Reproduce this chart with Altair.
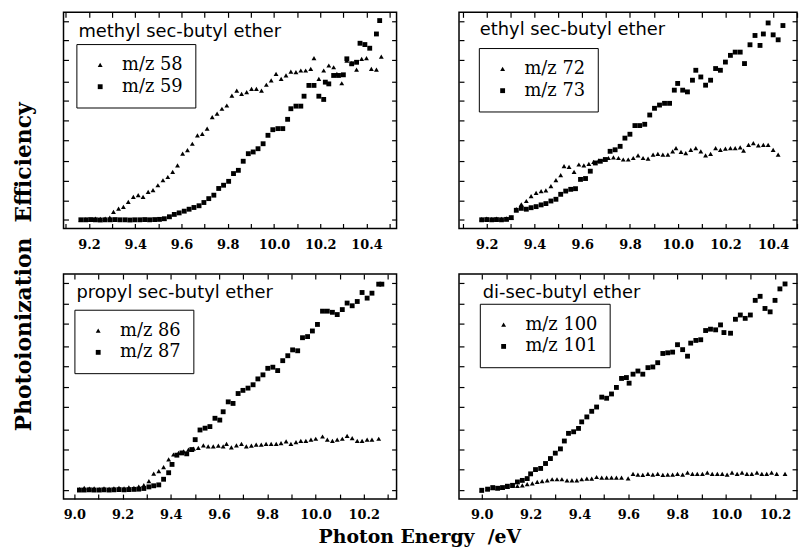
import altair as alt
import pandas as pd

# ---------------- data (photon energy eV, relative ion signal) ----------------
p1_names = ["m/z 58", "m/z 59"]
p1_tri = [(9.165,0.04),(9.186,0.042),(9.207,0.04),(9.228,0.046),(9.249,0.044),(9.27,0.045),(9.29,0.05),
          (9.306,0.077),(9.328,0.092),(9.349,0.10),(9.37,0.123),(9.392,0.146),(9.413,0.154),(9.434,0.146),
          (9.456,0.169),(9.477,0.177),(9.498,0.20),(9.52,0.223),(9.541,0.238),(9.562,0.262),(9.583,0.292),
          (9.605,0.346),(9.626,0.362),(9.647,0.392),(9.669,0.431),(9.69,0.438),(9.711,0.462),(9.733,0.515),
          (9.754,0.531),(9.775,0.554),(9.796,0.569),(9.818,0.615),(9.839,0.638),(9.86,0.623),(9.882,0.631),
          (9.903,0.646),(9.924,0.646),(9.946,0.638),(9.967,0.665),(9.988,0.685),(10.009,0.715),(10.031,0.692),
          (10.052,0.708),(10.073,0.726),(10.095,0.723),(10.116,0.731),(10.137,0.731),(10.159,0.738),
          (10.173,0.788),(10.194,0.692),(10.215,0.731),(10.237,0.754),(10.258,0.746),(10.272,0.715),
          (10.293,0.672),(10.315,0.777),(10.336,0.765),(10.357,0.735),(10.379,0.785),(10.40,0.788),
          (10.421,0.738),(10.443,0.735),(10.464,0.795)]
p1_sq = [(9.165,0.04),(9.186,0.04),(9.207,0.041),(9.228,0.04),(9.249,0.039),(9.27,0.04),(9.292,0.04),
         (9.313,0.041),(9.334,0.04),(9.356,0.04),(9.377,0.039),(9.398,0.04),(9.42,0.04),(9.441,0.041),
         (9.462,0.04),(9.484,0.041),(9.505,0.042),(9.526,0.045),(9.548,0.054),(9.569,0.065),(9.59,0.072),
         (9.612,0.08),(9.633,0.089),(9.654,0.097),(9.676,0.105),(9.697,0.12),(9.718,0.138),(9.74,0.154),
         (9.761,0.185),(9.782,0.20),(9.804,0.218),(9.825,0.254),(9.846,0.269),(9.867,0.311),(9.889,0.346),
         (9.91,0.354),(9.931,0.369),(9.953,0.392),(9.974,0.431),(9.995,0.457),(10.017,0.462),(10.038,0.462),
         (10.059,0.505),(10.073,0.554),(10.095,0.566),(10.116,0.566),(10.13,0.612),(10.151,0.662),
         (10.173,0.662),(10.194,0.612),(10.215,0.597),(10.222,0.677),(10.237,0.669),(10.258,0.708),
         (10.279,0.708),(10.30,0.711),(10.315,0.785),(10.336,0.762),(10.357,0.769),(10.372,0.857),
         (10.393,0.851),(10.414,0.834),(10.443,0.90),(10.457,0.962)]

p2_names = ["m/z 72", "m/z 73"]
p2_tri = [(9.179,0.043),(9.2,0.045),(9.221,0.043),(9.241,0.046),(9.262,0.044),(9.283,0.047),(9.303,0.05),
          (9.324,0.089),(9.345,0.112),(9.366,0.127),(9.386,0.15),(9.407,0.165),(9.428,0.173),(9.448,0.176),
          (9.469,0.196),(9.49,0.224),(9.51,0.247),(9.524,0.288),(9.545,0.285),(9.566,0.262),(9.586,0.296),
          (9.607,0.292),(9.628,0.299),(9.648,0.308),(9.669,0.314),(9.69,0.319),(9.71,0.326),(9.731,0.329),
          (9.752,0.326),(9.772,0.319),(9.793,0.319),(9.814,0.326),(9.834,0.338),(9.855,0.326),(9.876,0.323),
          (9.897,0.342),(9.917,0.345),(9.938,0.342),(9.959,0.342),(9.979,0.357),(9.993,0.372),(10.014,0.354),
          (10.034,0.349),(10.055,0.364),(10.076,0.372),(10.097,0.357),(10.117,0.338),(10.138,0.345),
          (10.159,0.372),(10.179,0.364),(10.20,0.369),(10.221,0.372),(10.241,0.372),(10.262,0.375),
          (10.276,0.36),(10.297,0.387),(10.317,0.395),(10.338,0.384),(10.359,0.387),(10.379,0.387),
          (10.40,0.364),(10.421,0.342)]
p2_sq = [(9.179,0.04),(9.2,0.041),(9.221,0.04),(9.241,0.041),(9.262,0.04),(9.283,0.042),(9.303,0.05),
         (9.324,0.084),(9.345,0.093),(9.366,0.089),(9.386,0.096),(9.407,0.101),(9.428,0.109),(9.448,0.115),
         (9.469,0.127),(9.49,0.135),(9.51,0.158),(9.531,0.173),(9.552,0.181),(9.572,0.184),(9.593,0.227),
         (9.614,0.231),(9.634,0.265),(9.655,0.303),(9.676,0.311),(9.697,0.319),(9.717,0.357),(9.738,0.364),
         (9.759,0.38),(9.779,0.418),(9.80,0.436),(9.821,0.476),(9.841,0.476),(9.862,0.482),(9.883,0.525),
         (9.903,0.556),(9.924,0.571),(9.945,0.579),(9.966,0.579),(9.986,0.64),(10.0,0.671),(10.021,0.64),
         (10.041,0.632),(10.062,0.686),(10.076,0.732),(10.097,0.701),(10.117,0.663),(10.138,0.686),
         (10.159,0.74),(10.179,0.732),(10.20,0.77),(10.221,0.801),(10.241,0.816),(10.262,0.816),
         (10.28,0.763),(10.303,0.85),(10.324,0.893),(10.345,0.847),(10.359,0.90),(10.379,0.951),
         (10.40,0.896),(10.421,0.873),(10.441,0.939)]

p3_names = ["m/z 86", "m/z 87"]
p3_tri = [(9.021,0.044),(9.041,0.05),(9.062,0.046),(9.082,0.048),(9.103,0.044),(9.123,0.047),(9.144,0.045),
          (9.164,0.048),(9.185,0.05),(9.206,0.047),(9.226,0.052),(9.247,0.05),(9.267,0.055),(9.288,0.062),
          (9.309,0.08),(9.329,0.113),(9.35,0.124),(9.37,0.142),(9.391,0.176),(9.411,0.198),(9.432,0.205),
          (9.453,0.212),(9.473,0.22),(9.494,0.224),(9.514,0.227),(9.535,0.239),(9.555,0.234),(9.576,0.234),
          (9.597,0.237),(9.617,0.234),(9.631,0.245),(9.651,0.23),(9.672,0.239),(9.693,0.245),(9.713,0.234),
          (9.734,0.237),(9.754,0.242),(9.775,0.242),(9.795,0.245),(9.816,0.245),(9.837,0.245),(9.857,0.249),
          (9.878,0.256),(9.898,0.245),(9.919,0.253),(9.939,0.259),(9.96,0.259),(9.981,0.264),(10.001,0.268),
          (10.029,0.278),(10.049,0.264),(10.07,0.259),(10.09,0.264),(10.111,0.268),(10.131,0.281),
          (10.152,0.271),(10.173,0.259),(10.193,0.259),(10.214,0.264),(10.234,0.264),(10.262,0.268)]
p3_sq = [(9.021,0.04),(9.041,0.04),(9.062,0.041),(9.082,0.04),(9.103,0.04),(9.123,0.041),(9.144,0.04),
         (9.164,0.041),(9.185,0.042),(9.206,0.041),(9.226,0.042),(9.247,0.043),(9.267,0.044),(9.288,0.047),
         (9.309,0.054),(9.329,0.059),(9.35,0.063),(9.37,0.088),(9.391,0.117),(9.405,0.154),(9.425,0.195),
         (9.446,0.205),(9.466,0.201),(9.487,0.22),(9.501,0.264),(9.521,0.307),(9.542,0.315),(9.562,0.322),
         (9.583,0.359),(9.603,0.351),(9.617,0.388),(9.638,0.432),(9.658,0.425),(9.679,0.469),(9.699,0.483),
         (9.72,0.493),(9.741,0.508),(9.761,0.534),(9.782,0.552),(9.802,0.581),(9.823,0.586),(9.843,0.571),
         (9.864,0.615),(9.885,0.637),(9.905,0.663),(9.926,0.659),(9.946,0.717),(9.967,0.722),(9.987,0.747),
         (10.008,0.776),(10.029,0.835),(10.049,0.835),(10.07,0.83),(10.09,0.82),(10.111,0.842),
         (10.131,0.871),(10.152,0.859),(10.173,0.878),(10.193,0.918),(10.214,0.893),(10.234,0.915),
         (10.262,0.955),(10.275,0.955)]

p4_names = ["m/z 100", "m/z 101"]
p4_tri = [(9.0,0.039),(9.024,0.044),(9.045,0.048),(9.065,0.048),(9.085,0.051),(9.105,0.054),(9.126,0.058),
          (9.146,0.058),(9.166,0.061),(9.186,0.066),(9.207,0.07),(9.227,0.076),(9.247,0.08),(9.268,0.083),
          (9.288,0.088),(9.308,0.088),(9.328,0.088),(9.349,0.083),(9.369,0.083),(9.389,0.083),(9.409,0.088),
          (9.43,0.091),(9.45,0.091),(9.47,0.098),(9.491,0.095),(9.511,0.095),(9.531,0.095),(9.551,0.095),
          (9.572,0.095),(9.599,0.092),(9.619,0.112),(9.639,0.109),(9.659,0.107),(9.68,0.112),(9.70,0.109),
          (9.72,0.112),(9.741,0.107),(9.761,0.109),(9.781,0.109),(9.801,0.112),(9.822,0.109),(9.842,0.117),
          (9.862,0.112),(9.882,0.112),(9.903,0.112),(9.923,0.117),(9.943,0.112),(9.964,0.112),(9.984,0.112),
          (10.004,0.109),(10.024,0.117),(10.045,0.112),(10.065,0.117),(10.085,0.112),(10.105,0.112),
          (10.126,0.117),(10.146,0.112),(10.166,0.112),(10.186,0.117),(10.207,0.112),(10.241,0.112)]
p4_sq = [(9.0,0.039),(9.024,0.044),(9.045,0.051),(9.065,0.048),(9.085,0.051),(9.105,0.057),(9.126,0.061),
         (9.146,0.076),(9.166,0.083),(9.186,0.091),(9.2,0.112),(9.22,0.131),(9.241,0.136),(9.261,0.158),
         (9.281,0.18),(9.301,0.204),(9.322,0.223),(9.338,0.258),(9.355,0.292),(9.376,0.299),(9.396,0.314),
         (9.409,0.343),(9.43,0.365),(9.45,0.39),(9.47,0.409),(9.491,0.453),(9.511,0.448),(9.531,0.467),
         (9.551,0.496),(9.572,0.536),(9.592,0.54),(9.603,0.515),(9.619,0.555),(9.639,0.569),(9.659,0.555),
         (9.68,0.584),(9.70,0.587),(9.72,0.606),(9.741,0.647),(9.761,0.65),(9.781,0.653),(9.801,0.686),
         (9.822,0.664),(9.842,0.635),(9.855,0.693),(9.876,0.705),(9.896,0.708),(9.916,0.749),(9.936,0.755),
         (9.957,0.752),(9.977,0.774),(9.991,0.74),(10.018,0.737),(10.038,0.799),(10.058,0.818),
         (10.078,0.803),(10.099,0.818),(10.119,0.883),(10.139,0.901),(10.159,0.847),(10.18,0.832),
         (10.20,0.883),(10.22,0.934),(10.241,0.956)]

titles = ["methyl sec-butyl ether", "ethyl sec-butyl ether", "propyl sec-butyl ether", "di-sec-butyl ether"]
x_domains = [[9.09, 10.53], [9.084, 10.50], [8.955, 10.336], [8.907, 10.29]]
x_ticks_top = [9.1, 9.2, 9.3, 9.4, 9.5, 9.6, 9.7, 9.8, 9.9, 10.0, 10.1, 10.2, 10.3, 10.4, 10.5]
x_ticks_bottom = [9.0, 9.1, 9.2, 9.3, 9.4, 9.5, 9.6, 9.7, 9.8, 9.9, 10.0, 10.1, 10.2, 10.3]
y_ticks = [0.04, 0.13, 0.22, 0.31, 0.41, 0.5, 0.59, 0.68, 0.78, 0.87, 0.96]

SERIF = "DejaVu Serif"
SANS = "DejaVu Sans"
TICK = 5


def make_df(tri, sq, names):
    rows = [{"ev": e, "val": v, "series": names[0]} for e, v in tri]
    rows += [{"ev": e, "val": v, "series": names[1]} for e, v in sq]
    return pd.DataFrame(rows)


def panel(df, names, title, xdom, xticks, w, h, leg_xy, txt_xy):
    xs = alt.Scale(domain=xdom, nice=False, zero=False)
    ys = alt.Scale(domain=[0, 1], nice=False, zero=False)
    common = dict(offset=-TICK, tickSize=TICK, domain=False, grid=False, title=None,
                  tickColor="black", tickWidth=1.2)
    bottom = alt.Axis(orient="bottom", values=xticks,
                      labelExpr="abs(round(datum.value*10)) % 2 == 0 ? format(datum.value, '.1f') : ''",
                      labelPadding=TICK + 5, labelFont=SERIF, labelFontWeight="bold",
                      labelFontSize=13, labelColor="black", labelFlush=False, **common)
    top = alt.Axis(orient="top", values=xticks, labels=False, **common)
    left = alt.Axis(orient="left", values=y_ticks, labels=False, **common)
    right = alt.Axis(orient="right", values=y_ticks, labels=False, **common)
    pts = alt.Chart(df).mark_point(filled=True, color="black", opacity=1, size=24).encode(
        x=alt.X("ev:Q", scale=xs, axis=bottom),
        y=alt.Y("val:Q", scale=ys, axis=left),
        shape=alt.Shape("series:N",
                        scale=alt.Scale(domain=names, range=["triangle-up", "square"]),
                        legend=alt.Legend(title=None, orient="none", legendX=leg_xy[0], legendY=leg_xy[1],
                                          strokeColor="black", padding=12,
                                          labelFont=SERIF, labelFontSize=18, labelColor="black",
                                          symbolSize=24, symbolFillColor="black", symbolStrokeColor="black",
                                          symbolOffset=3, labelOffset=13, rowPadding=4)),
    )
    frame = alt.Chart(df).mark_point(opacity=0).encode(
        x=alt.X("ev:Q", scale=xs, axis=top),
        y=alt.Y("val:Q", scale=ys, axis=right),
    )
    txt = alt.Chart(pd.DataFrame({"t": [title]})).mark_text(
        align="left", baseline="alphabetic", font=SANS, fontSize=18, color="black"
    ).encode(x=alt.value(txt_xy[0]), y=alt.value(txt_xy[1]), text="t:N")
    return alt.layer(pts, frame, txt).resolve_axis(x="independent", y="independent").properties(
        width=w, height=h, view=alt.ViewBackground(stroke="black", strokeWidth=1.5))


c1 = panel(make_df(p1_tri, p1_sq, p1_names), p1_names, titles[0], x_domains[0], x_ticks_top, 336, 218, (13, 32), (15, 25))
c2 = panel(make_df(p2_tri, p2_sq, p2_names), p2_names, titles[1], x_domains[1], x_ticks_top, 341, 218, (20, 36), (21, 23))
c3 = panel(make_df(p3_tri, p3_sq, p3_names), p3_names, titles[2], x_domains[2], x_ticks_bottom, 336, 227, (11, 36), (13, 24))
c4 = panel(make_df(p4_tri, p4_sq, p4_names), p4_names, titles[3], x_domains[3], x_ticks_bottom, 341, 227, (21, 30), (24, 24))


def ind(ch):
    return ch.resolve_scale(x="independent", y="independent", shape="independent").resolve_legend(
        shape="independent").resolve_axis(x="independent", y="independent")


row1 = ind(alt.hconcat(c1, c2, spacing=59))
row2 = ind(alt.hconcat(c3, c4, spacing=59))
grid = ind(alt.vconcat(row1, row2, spacing=20)).properties(
    title=alt.TitleParams("Photoionization\u00a0\u00a0Efficiency", orient="left", anchor="middle", font=SERIF,
                          fontSize=22, fontWeight="bold", color="black", offset=26))
chart = ind(alt.hconcat(grid)).properties(
    title=alt.TitleParams("Photon Energy\u00a0\u00a0/eV", orient="bottom", anchor="middle", font=SERIF,
                          fontSize=19, fontWeight="bold", color="black", offset=6, dx=14),
    padding={"left": 5, "top": 0, "right": 0, "bottom": 0},
    background="white",
).configure_view(stroke="black", strokeWidth=1.5)

chart.save("out.html", embed_options={"renderer": "svg", "actions": False})
